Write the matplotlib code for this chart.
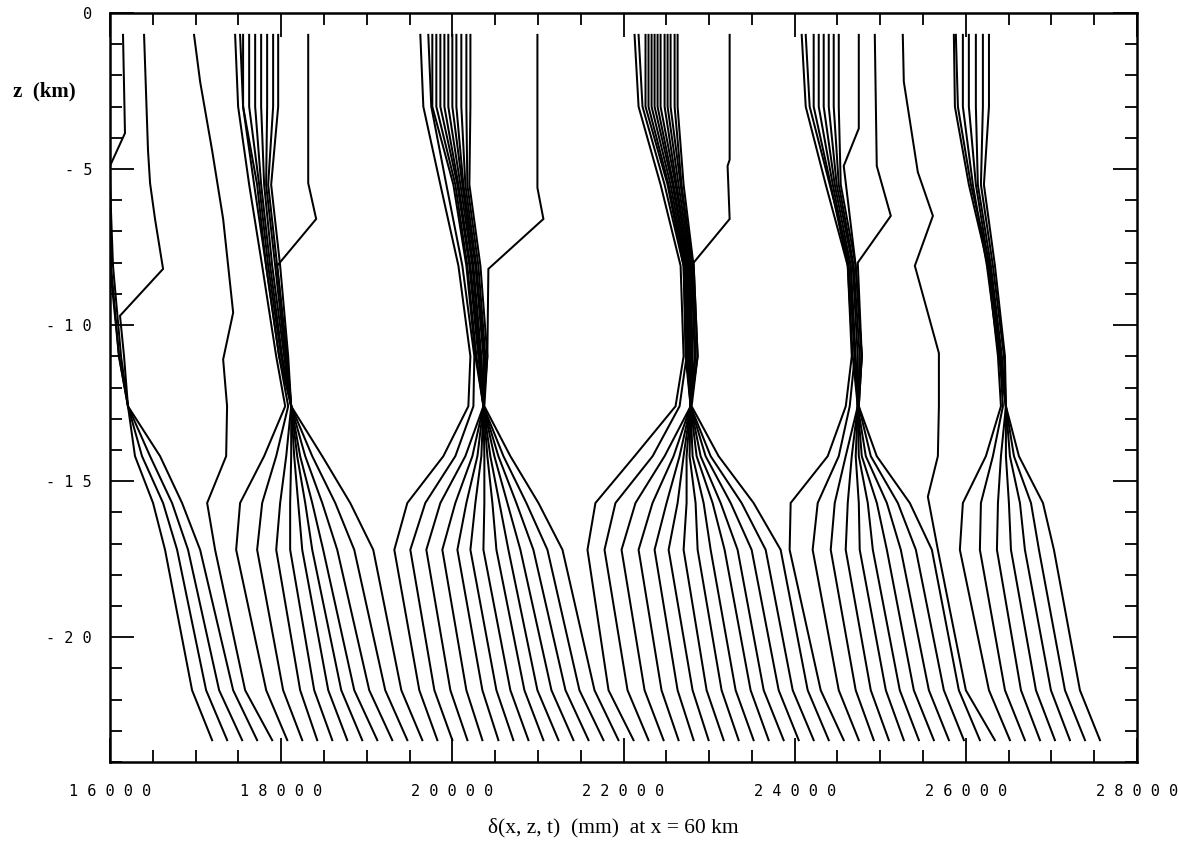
import matplotlib
matplotlib.use('Agg')
import matplotlib.pyplot as plt
from matplotlib.ticker import FixedLocator, MultipleLocator

# node depths (km) of the displacement profiles
z_upper = [-0.7, -3.0, -5.5, -8.1, -11.0, -12.6]
z_deep = [-14.2, -15.7, -17.2, -21.7, -23.3]

# cycle 1 (locked zone mostly left of the plotted range)
c1_upper = [
    [15650, 15766, 15953, 16000, 16105, 16210],
    [15743, 15836, 16000, 16035, 16129, 16210],
]
c1_kinked = [
    [(16152, -0.7), (16175, -3.85), (16000, -4.9), (16012, -8.1), (16105, -11.0), (16210, -12.6)],
    [(16398, -0.7), (16444, -4.4), (16468, -5.45), (16526, -6.6), (16620, -8.2), (16117, -9.7),
     (16164, -11.0), (16210, -12.6)],
]
c1_deep = [
    [16292, 16503, 16643, 16959, 17193],
    [16374, 16620, 16784, 17123, 17369],
    [16468, 16725, 16912, 17275, 17544],
    [16585, 16842, 17053, 17439, 17719],
]

# transition between cycle 1 and 2
t1 = [(16982, -0.7), (17053, -2.2), (17193, -4.4), (17322, -6.6), (17439, -9.6), (17322, -11.1),
      (17368, -12.6), (17357, -14.2), (17135, -15.7), (17228, -17.2), (17579, -21.7), (17895, -23.3)]

# cycle 2
c2_upper = [
    [17462, 17497, 17626, 17778, 17942, 18047],
    [17520, 17555, 17684, 17824, 17976, 18082],
    [17555, 17555, 17719, 17824, 17976, 18117],
    [17626, 17626, 17743, 17848, 18000, 18117],
    [17696, 17696, 17766, 17871, 18012, 18117],
    [17766, 17766, 17801, 17895, 18035, 18117],
    [17836, 17836, 17824, 17930, 18047, 18117],
    [17906, 17906, 17848, 17953, 18059, 18117],
    [17965, 17965, 17883, 17988, 18082, 18117],
]
c2_kinked = [
    [(18316, -0.7), (18316, -5.45), (18409, -6.6), (17953, -8.1), (18070, -11.0), (18117, -12.6)],
]
c2_deep = [
    [17801, 17520, 17474, 17825, 18071],
    [17942, 17778, 17719, 18023, 18246],
    [18059, 17988, 17942, 18222, 18421],
    [18117, 18105, 18105, 18386, 18597],
    [18152, 18199, 18246, 18550, 18772],
    [18187, 18281, 18363, 18702, 18947],
    [18222, 18363, 18491, 18854, 19123],
    [18281, 18480, 18655, 19029, 19298],
    [18363, 18632, 18854, 19216, 19474],
    [18480, 18807, 19076, 19404, 19649],
]

# cycle 3
c3_upper = [
    [19626, 19661, 19860, 20071, 20211, 20187],
    [19719, 19754, 19930, 20117, 20257, 20246],
    [19766, 19766, 20012, 20164, 20269, 20363],
    [19813, 19813, 20035, 20175, 20281, 20363],
    [19860, 19860, 20059, 20199, 20304, 20363],
    [19907, 19907, 20071, 20211, 20316, 20363],
    [19953, 19953, 20094, 20234, 20328, 20363],
    [20000, 20000, 20117, 20246, 20339, 20363],
    [20047, 20047, 20129, 20269, 20363, 20363],
    [20105, 20105, 20152, 20281, 20374, 20363],
    [20164, 20164, 20175, 20304, 20386, 20363],
    [20211, 20211, 20199, 20328, 20409, 20363],
]
c3_kinked = [
    [(20994, -0.7), (20994, -5.6), (21064, -6.6), (20421, -8.2), (20409, -11.0), (20374, -12.6)],
]
c3_deep = [
    [19895, 19474, 19322, 19614, 19825],
    [20035, 19684, 19509, 19790, 20000],
    [20152, 19860, 19696, 19977, 20176],
    [20234, 20035, 19883, 20164, 20351],
    [20293, 20164, 20059, 20351, 20538],
    [20339, 20269, 20211, 20515, 20713],
    [20374, 20374, 20363, 20678, 20889],
    [20409, 20468, 20515, 20842, 21064],
    [20444, 20550, 20655, 20994, 21240],
    [20491, 20643, 20795, 21158, 21415],
    [20538, 20748, 20947, 21322, 21591],
    [20597, 20865, 21111, 21485, 21766],
    [20678, 21006, 21287, 21661, 21941],
]

# cycle 4
c4_upper = [
    [22129, 22176, 22433, 22667, 22702, 22608],
    [22176, 22222, 22480, 22702, 22737, 22655],
    [22257, 22257, 22515, 22702, 22725, 22784],
    [22292, 22292, 22527, 22714, 22737, 22784],
    [22328, 22328, 22550, 22725, 22749, 22784],
    [22363, 22363, 22573, 22737, 22760, 22784],
    [22398, 22398, 22585, 22749, 22772, 22784],
    [22433, 22433, 22608, 22760, 22784, 22784],
    [22480, 22480, 22620, 22772, 22796, 22784],
    [22515, 22515, 22643, 22784, 22807, 22784],
    [22550, 22550, 22667, 22796, 22831, 22784],
    [22597, 22597, 22678, 22807, 22842, 22784],
    [22632, 22632, 22702, 22819, 22866, 22784],
]
c4_kinked = [
    [(23240, -0.7), (23240, -4.7), (23216, -4.9), (23240, -6.6), (22819, -8.0), (22866, -11.0),
     (22796, -12.6)],
]
c4_deep = [
    [22129, 21672, 21579, 21825, 22117],
    [22340, 21906, 21778, 22047, 22292],
    [22480, 22140, 21977, 22246, 22468],
    [22585, 22339, 22176, 22444, 22643],
    [22655, 22503, 22363, 22632, 22819],
    [22702, 22632, 22527, 22807, 22994],
    [22737, 22737, 22702, 22971, 23170],
    [22772, 22842, 22866, 23146, 23345],
    [22807, 22936, 23018, 23310, 23520],
    [22854, 23041, 23181, 23485, 23696],
    [22901, 23135, 23333, 23638, 23871],
    [22959, 23252, 23497, 23813, 24047],
    [23018, 23380, 23661, 23977, 24222],
    [23111, 23520, 23836, 24152, 24398],
]

# cycle 5
c5_upper = [
    [24082, 24129, 24363, 24620, 24667, 24597],
    [24129, 24175, 24410, 24655, 24702, 24643],
    [24222, 24222, 24421, 24620, 24678, 24737],
    [24281, 24281, 24445, 24632, 24702, 24737],
    [24339, 24339, 24468, 24655, 24713, 24737],
    [24398, 24398, 24491, 24678, 24737, 24737],
    [24456, 24456, 24515, 24690, 24760, 24737],
    [24515, 24515, 24538, 24713, 24784, 24737],
]
c5_kinked = [
    [(24749, -0.7), (24749, -3.7), (24573, -4.9), (24713, -8.1), (24784, -11.0), (24749, -12.6)],
    [(24936, -0.7), (24959, -4.9), (25123, -6.5), (24737, -8.0), (24784, -11.0), (24749, -12.6)],
]
c5_deep = [
    [24386, 23953, 23941, 24304, 24573],
    [24515, 24269, 24210, 24515, 24749],
    [24596, 24468, 24421, 24713, 24924],
    [24667, 24620, 24596, 24889, 25100],
    [24713, 24749, 24760, 25065, 25275],
    [24749, 24854, 24913, 25228, 25451],
    [24784, 24960, 25077, 25392, 25626],
    [24831, 25077, 25240, 25568, 25802],
    [24889, 25205, 25416, 25743, 25977],
    [24959, 25345, 25603, 25918, 26164],
]

# transition between cycle 5 and 6
t5 = [(25263, -0.7), (25275, -2.2), (25439, -5.1), (25615, -6.5), (25404, -8.1), (25685, -10.9),
      (25685, -12.6), (25673, -14.2), (25556, -15.5), (25673, -17.2), (26000, -21.7), (26339, -23.3)]

# cycle 6
c6_upper = [
    [25860, 25872, 26035, 26258, 26375, 26410],
    [25883, 25907, 26059, 26281, 26398, 26433],
    [25965, 25965, 26082, 26246, 26386, 26468],
    [26035, 26035, 26117, 26270, 26410, 26468],
    [26117, 26117, 26140, 26293, 26421, 26468],
    [26199, 26199, 26176, 26316, 26445, 26468],
    [26270, 26270, 26211, 26340, 26457, 26468],
]
c6_deep = [
    [26234, 25965, 25930, 26270, 26515],
    [26316, 26176, 26164, 26457, 26690],
    [26410, 26375, 26363, 26644, 26866],
    [26468, 26503, 26527, 26819, 27041],
    [26515, 26632, 26690, 26994, 27216],
    [26562, 26761, 26854, 27158, 27392],
    [26620, 26901, 27029, 27333, 27567],
]

x_ticks = [16000, 18000, 20000, 22000, 24000, 26000, 28000]
z_ticks = [0, -5, -10, -15, -20]


def spaced(text):
    """Write tick labels with a blank between the characters"""
    return ' '.join(text)


def build_profiles(upper_rows, deep_rows):
    """Join the upper part of each profile with its part below the locking depth"""
    profiles = []
    for upper, deep in zip(upper_rows, deep_rows):
        if isinstance(upper[0], tuple):
            xs = [p[0] for p in upper]
            zs = [p[1] for p in upper]
        else:
            xs = list(upper)
            zs = list(z_upper)
        profiles.append((xs + list(deep), zs + z_deep))
    return profiles


def plot_profiles():
    fig = plt.figure(figsize=(11.79, 8.56), dpi=100)
    ax = fig.add_axes([0.0933, 0.1098, 0.8711, 0.875])

    profiles = []
    profiles += build_profiles(c1_upper + c1_kinked, c1_deep)
    profiles.append(([p[0] for p in t1], [p[1] for p in t1]))
    profiles += build_profiles(c2_upper + c2_kinked, c2_deep)
    profiles += build_profiles(c3_upper + c3_kinked, c3_deep)
    profiles += build_profiles(c4_upper + c4_kinked, c4_deep)
    profiles += build_profiles(c5_upper + c5_kinked, c5_deep)
    profiles.append(([p[0] for p in t5], [p[1] for p in t5]))
    profiles += build_profiles(c6_upper, c6_deep)

    for xs, zs in profiles:
        ax.plot(xs, zs, color='black', linewidth=1.45, solid_joinstyle='miter')

    ax.set_xlim(16000, 28000)
    ax.set_ylim(-24, 0)

    ax.xaxis.set_major_locator(FixedLocator(x_ticks))
    ax.xaxis.set_minor_locator(MultipleLocator(500))
    ax.yaxis.set_major_locator(FixedLocator(z_ticks))
    ax.yaxis.set_minor_locator(MultipleLocator(1))
    ax.set_xticklabels([spaced(str(v)) for v in x_ticks], family='DejaVu Sans Mono', fontsize=11)
    ax.set_yticklabels([spaced(str(v)) for v in z_ticks], family='DejaVu Sans Mono', fontsize=11)

    ax.tick_params(which='both', direction='in', top=True, right=True, width=1.3)
    ax.tick_params(which='major', length=17)
    ax.tick_params(which='minor', length=8.5)
    ax.tick_params(axis='x', which='major', pad=16)
    ax.tick_params(axis='y', which='major', pad=13)
    for spine in ax.spines.values():
        spine.set_linewidth(1.8)

    fig.text(44 / 1179, 1 - 91 / 856, 'z  (km)', family='Liberation Serif', weight='bold',
             fontsize=15, ha='center', va='center')
    fig.text(613 / 1179, 1 - 828 / 856, 'δ(x, z, t)  (mm)  at x = 60 km', family='Liberation Serif',
             fontsize=15.5, ha='center', va='center')

    fig.savefig('out.png', dpi=100)


if __name__ == '__main__':
    plot_profiles()
